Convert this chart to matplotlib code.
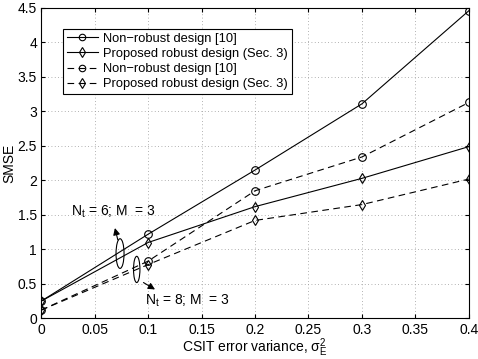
import matplotlib.pyplot as plt
from matplotlib.patches import Ellipse

plt.rcParams["font.family"] = ["Liberation Sans", "DejaVu Sans"]
plt.rcParams["mathtext.fontset"] = "custom"
plt.rcParams["mathtext.rm"] = "Liberation Sans"
plt.rcParams["mathtext.it"] = "Liberation Sans"

# CSIT error variance
x = [0, 0.1, 0.2, 0.3, 0.4]
# Nt = 6, M = 3 (solid)
nonrobust_6 = [0.25, 1.22, 2.15, 3.11, 4.46]
robust_6 = [0.25, 1.10, 1.62, 2.03, 2.49]
# Nt = 8, M = 3 (dashed)
nonrobust_8 = [0.12, 0.83, 1.85, 2.34, 3.13]
robust_8 = [0.12, 0.78, 1.42, 1.65, 2.02]

labels = ["Non\u2212robust design [10]", "Proposed robust design (Sec. 3)"]

fig = plt.figure(figsize=(4.78, 3.59), dpi=100)
ax = fig.add_axes([0.086, 0.113, 0.895, 0.865])

mk = dict(color="black", linewidth=0.8, markersize=5.5, markerfacecolor="none",
          markeredgewidth=0.8)
ax.plot(x, nonrobust_6, "-", marker="o", label=labels[0], **mk)
ax.plot(x, robust_6, "-", marker="d", label=labels[1], **mk)
ax.plot(x, nonrobust_8, "--", marker="o", label=labels[0], dashes=(6, 4), **mk)
ax.plot(x, robust_8, "--", marker="d", label=labels[1], dashes=(6, 4), **mk)

# ellipses and arrows marking the two antenna configurations
ax.add_patch(Ellipse((0.0738, 0.94), 0.0075, 0.43, fill=False, lw=0.8, color="black"))
ax.add_patch(Ellipse((0.0894, 0.71), 0.006, 0.38, fill=False, lw=0.8, color="black"))
arrow = dict(arrowstyle="-|>", color="black", lw=0.8, mutation_scale=10,
             shrinkA=0, shrinkB=0)
ax.annotate("", xy=(0.069, 1.31), xytext=(0.0717, 1.14), arrowprops=arrow)
ax.annotate("", xy=(0.1065, 0.42), xytext=(0.0957, 0.52), arrowprops=arrow)
ax.text(0.0277, 1.55, "N$_\\mathrm{t}$ = 6; M  = 3", fontsize=10, va="center")
ax.text(0.097, 0.26, "N$_\\mathrm{t}$ = 8; M  = 3", fontsize=10, va="center")

ax.set_xlim(0, 0.4)
ax.set_ylim(0, 4.5)
ax.set_xticks([0, 0.05, 0.1, 0.15, 0.2, 0.25, 0.3, 0.35, 0.4])
ax.set_xticklabels(["0", "0.05", "0.1", "0.15", "0.2", "0.25", "0.3", "0.35", "0.4"])
ax.set_yticks([0, 0.5, 1, 1.5, 2, 2.5, 3, 3.5, 4, 4.5])
ax.set_yticklabels(["0", "0.5", "1", "1.5", "2", "2.5", "3", "3.5", "4", "4.5"])
ax.tick_params(direction="in", top=True, right=True, labelsize=10, length=3, pad=3)
ax.grid(True, linestyle=(0, (1, 3)), color="#999999", linewidth=0.6)
ax.set_xlabel("CSIT error variance, $\\sigma_E^2$", fontsize=10, labelpad=0)
ax.set_ylabel("SMSE", fontsize=10, labelpad=1)

leg = ax.legend(loc="upper left", bbox_to_anchor=(0.051, 0.933), fontsize=9.3,
                fancybox=False, edgecolor="black", framealpha=1,
                handlelength=2.4, handletextpad=0.4, borderpad=0.3,
                labelspacing=0.25, borderaxespad=0, markerscale=0.85)
leg.get_frame().set_linewidth(0.8)

fig.savefig("out.png")
